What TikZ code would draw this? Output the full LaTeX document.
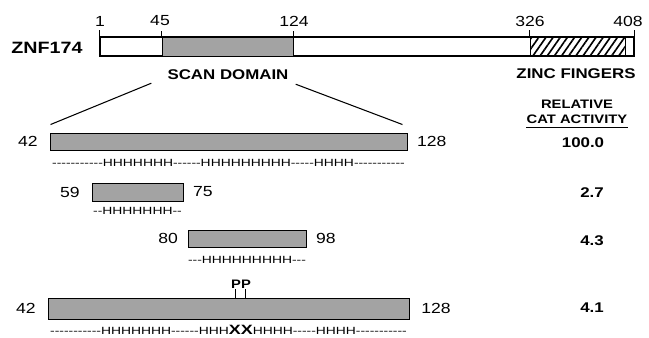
\documentclass[tikz,border=0pt]{standalone}
\usepackage{fontspec}
\setmainfont{Liberation Sans}
\newfontfamily\helixfont[Ligatures=TeXOff]{Liberation Sans}
\usetikzlibrary{positioning,patterns.meta}
\newcommand\wide[1]{\scalebox{1.2}[1]{#1}}
\newcommand\helix[1]{\scalebox{1.33}[1]{\helixfont\fontsize{8.9}{10}\selectfont #1}}
\newcommand\mutxx{{\bfseries\fontsize{11.5}{12}\selectfont XX}}

\begin{document}
\begin{tikzpicture}[x=0.03cm, y=-0.03cm, every node/.style={inner sep=0pt},
	bar/.style 2 args={minimum width=#1*0.03cm, minimum height=#2*0.03cm},
	num/.style={font=\fontsize{12.5}{14}\selectfont},
	lbl/.style={font=\bfseries\fontsize{12}{14}\selectfont},
	val/.style={font=\bfseries\fontsize{12}{14}\selectfont},
	scan/.style={draw, line width=0.8pt, fill=black!36},
	zinc/.style={draw, line width=0.8pt, pattern={Lines[angle=55, distance=5pt, line width=1.4pt]}},
	rule/.style={line width=0.9pt}]
	\useasboundingbox (0,0) rectangle (649,337);
	\node[font=\bfseries\fontsize{14}{16}\selectfont] (name) at (47,48) {\wide{ZNF174}};
	\node[draw, line width=0.9pt, bar={534}{19}] (prot) at (367,46.5) {};
	\node[scan, bar={131}{19}] (scandom) at (227.5,46.5) {};
	\node[zinc, bar={95}{19}] (zincdom) at (577.5,46.5) {};
	\draw[rule] (prot.north west) -- ++(0,-6);
	\draw[rule] (scandom.north west) -- ++(0,-6);
	\draw[rule] (scandom.north east) -- ++(0,-6);
	\draw[rule] (zincdom.north west) -- ++(0,-6);
	\draw[rule] (prot.north east) -- ++(0,-6);
	\node[num] (p1) at (100,21) {\wide{1}};
	\node[num] (p45) at (160,21) {\wide{45}};
	\node[num] (p124) at (294,21) {\wide{124}};
	\node[num] (p326) at (530,21) {\wide{326}};
	\node[num] (p408) at (628,21) {\wide{408}};
	\node[lbl] (scanlbl) at (228,75) {\wide{SCAN DOMAIN}};
	\node[lbl] (zinclbl) at (576,74) {\wide{ZINC FINGERS}};
	\node[font=\bfseries\fontsize{10.5}{13}\selectfont, align=center] (act) at (577,112) {\wide{RELATIVE}\\\wide{CAT ACTIVITY}};
	\draw[rule] ([yshift=-3pt]act.south west) -- ([yshift=-3pt]act.south east);

	\node[scan, bar={357}{17}] (r1) at (228.5,141.5) {};
	\node[num, left=10pt of r1] (r1a) {\wide{42}};
	\node[num, right=8pt of r1] (r1b) {\wide{128}};
	\node[below=7pt of r1] (h1) {\helix{-----------HHHHHHH------HHHHHHHHH-----HHHH-----------}};
	\node[val] (v1) at (583,143) {\wide{100.0}};
	\draw[rule] ([xshift=-0.48cm, yshift=-0.09cm]scanlbl.south west) -- ([xshift=0.03cm, yshift=0.24cm]r1.north west);
	\draw[rule] ([xshift=0.21cm, yshift=-0.12cm]scanlbl.south east) -- ([xshift=-0.15cm, yshift=0.24cm]r1.north east);

	\node[scan, bar={91}{18}] (r2) at (137.5,192) {};
	\node[num, left=10pt of r2] (r2a) {\wide{59}};
	\node[num, right=8pt of r2] (r2b) {\wide{75}};
	\node[below=5pt of r2] (h2) {\helix{--HHHHHHH--}};
	\node[val] (v2) at (592,193) {\wide{2.7}};

	\node[scan, bar={118}{17}] (r3) at (247,238.5) {};
	\node[num, left=8pt of r3] (r3a) {\wide{80}};
	\node[num, right=8pt of r3] (r3b) {\wide{98}};
	\node[below=7pt of r3] (h3) {\helix{---HHHHHHHHH---}};
	\node[val] (v3) at (592,241) {\wide{4.3}};

	\node[scan, bar={361}{21}] (r4) at (228.5,308.5) {};
	\node[num, left=10pt of r4] (r4a) {\wide{42}};
	\node[num, right=10pt of r4] (r4b) {\wide{128}};
	\node[below=5pt of r4] (h4) {\helix{-----------HHHHHHH------HHH\mutxx HHHH-----HHHH-----------}};
	\node[val] (v4) at (592,308) {\wide{4.1}};
	\node[font=\bfseries\fontsize{10.5}{12}\selectfont] (pp) at (241,284) {\wide{PP}};
	\draw (235,0 |- r4.north) -- ++(0,-9);
	\draw (245,0 |- r4.north) -- ++(0,-9);
\end{tikzpicture}
\end{document}
